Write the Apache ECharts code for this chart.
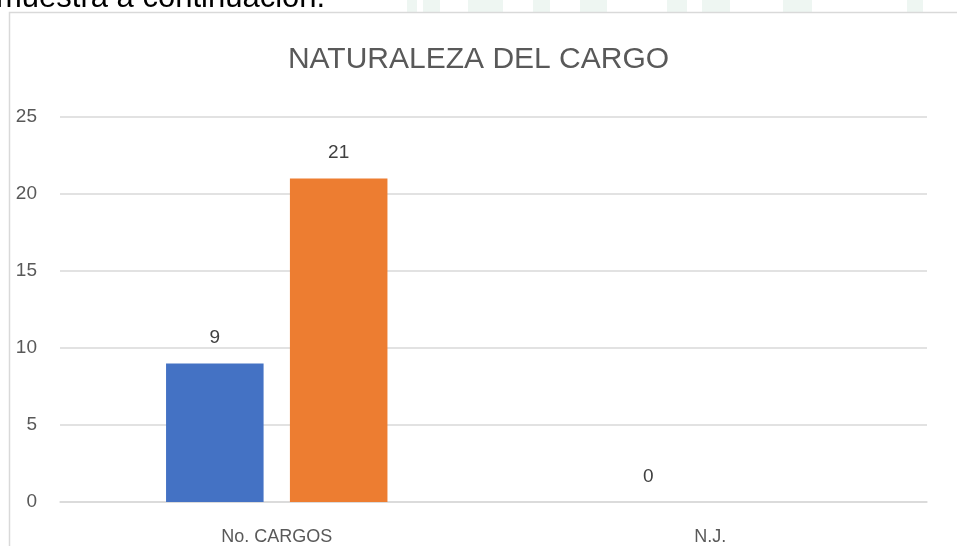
<!DOCTYPE html>
<html>
<head>
<meta charset="utf-8">
<script src="https://cdn.jsdelivr.net/npm/echarts@6/dist/echarts.min.js"></script>
<style>
html,body{margin:0;padding:0;background:#fff;}
#chart{width:957px;height:546px;}
</style>
</head>
<body>
<div id="chart"></div>
<script>
var categories = ['No. CARGOS', 'N.J.'];
var serie1 = [9, 0];
var serie2 = [21, null];
var yTicks = [0, 5, 10, 15, 20, 25];
var titleText = 'NATURALEZA DEL CARGO';
var docText = 'muestra a continuación.';

var FONT = '"Liberation Sans", Arial, sans-serif';
var chart = echarts.init(document.getElementById('chart'), null, {renderer: 'canvas'});

var wm = [[407,10],[423,17],[468,35],[533,17],[580,27],[667,20],[702,28],[783,29],[907,16]];
var graphics = [];
wm.forEach(function (w) {
  graphics.push({type: 'rect', silent: true, z: -10, shape: {x: w[0], y: 0, width: w[1], height: 12}, style: {fill: '#eef6f2'}});
});
graphics.push({type: 'text', silent: true, left: -4, top: -17,
  style: {text: docText, fill: '#000', font: '31px "Liberation Sans", Arial, sans-serif'}});
graphics.push({type: 'rect', silent: true, shape: {x: 9.5, y: 12.5, width: 1000, height: 600},
  style: {fill: 'none', stroke: '#d9d9d9', lineWidth: 1.5}});

chart.setOption({
  backgroundColor: '#fff',
  animation: false,
  graphic: graphics,
  title: {
    text: titleText, left: 'center', top: 40,
    textStyle: {fontFamily: FONT, fontSize: 30, fontWeight: 'normal', color: '#595959'}
  },
  grid: {left: 60, right: 30, top: 117, bottom: 40, containLabel: false},
  xAxis: {
    type: 'category', data: categories,
    axisLine: {show: true, lineStyle: {color: '#d9d9d9', width: 1.5}},
    axisTick: {show: false},
    axisLabel: {fontFamily: FONT, fontSize: 18, color: '#595959', margin: 26}
  },
  yAxis: {
    type: 'value', min: yTicks[0], max: yTicks[yTicks.length - 1], interval: 5,
    axisLine: {show: false}, axisTick: {show: false},
    splitLine: {lineStyle: {color: '#d9d9d9', width: 1.5}},
    axisLabel: {fontFamily: FONT, fontSize: 19, color: '#595959', margin: 23}
  },
  series: [
    {name: 'Serie 1', type: 'bar', data: serie1, barWidth: '22.5%', barGap: '27%',
     itemStyle: {color: '#4472C4'},
     label: {show: true, position: 'top', distance: 16, fontFamily: FONT, fontSize: 19, color: '#404040'}},
    {name: 'Serie 2', type: 'bar', data: serie2, barWidth: '22.5%', barGap: '27%',
     itemStyle: {color: '#ED7D31'},
     label: {show: true, position: 'top', distance: 16, fontFamily: FONT, fontSize: 19, color: '#404040'}}
  ]
});
</script>
</body>
</html>
